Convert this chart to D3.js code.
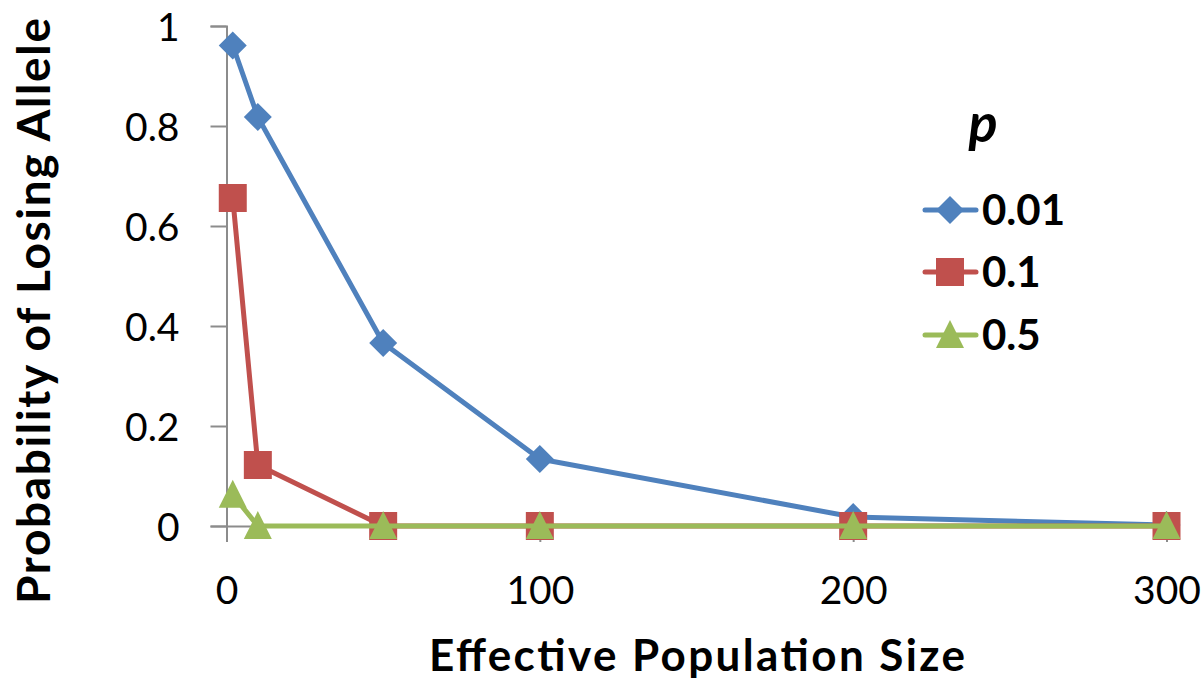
<!DOCTYPE html>
<html>
<head>
<meta charset="utf-8">
<script src="https://cdn.jsdelivr.net/npm/d3@7"></script>
<style>
  html, body { margin: 0; padding: 0; background: #fff; }
  svg { display: block; }
  text { font-family: Lato, "Open Sans", sans-serif; }
</style>
</head>
<body>
<svg id="chart" width="1204" height="683"></svg>
<script>
// Effective population size (N)
const popSizes = [2, 10, 50, 100, 200, 300];
// Probability of losing the allele for each starting frequency p
const lossP001 = [0.961, 0.818, 0.366, 0.134, 0.018, 0.002];
const lossP01  = [0.656, 0.122, 0.0, 0.0, 0.0, 0.0];
const lossP05  = [0.0625, 0.0, 0.0, 0.0, 0.0, 0.0];
const seriesNames = ["0.01", "0.1", "0.5"];
const xTicks = [0, 100, 200, 300];
const yTicks = [0, 0.2, 0.4, 0.6, 0.8, 1];

const series = [
  { name: seriesNames[0], values: lossP001, color: "#4F81BD", shape: "diamond" },
  { name: seriesNames[1], values: lossP01,  color: "#C0504D", shape: "square" },
  { name: seriesNames[2], values: lossP05,  color: "#9BBB59", shape: "triangle" }
];

const svg = d3.select("#chart");
const x = d3.scaleLinear().domain([0, 300]).range([226.5, 1166.5]);
const y = d3.scaleLinear().domain([0, 1]).range([526, 26]);

const axisColor = "#8c8c8c";

// Y axis
const yAxis = svg.append("g")
  .attr("transform", `translate(${x(0)},0)`)
  .call(d3.axisLeft(y).tickValues(yTicks).tickSize(16).tickPadding(30)
    .tickFormat(d => d === 0 ? "0" : d === 1 ? "1" : d3.format(".1f")(d)));
yAxis.select(".domain").attr("stroke", axisColor).attr("stroke-width", 2);
yAxis.selectAll(".tick line").attr("stroke", axisColor).attr("stroke-width", 2);
yAxis.selectAll(".tick text").attr("font-size", 39).attr("fill", "#000")
  .attr("font-family", "Lato, sans-serif").attr("dy", "0.36em").attr("x", -47);

// X axis
const xAxis = svg.append("g")
  .attr("transform", `translate(0,${y(0)})`)
  .call(d3.axisBottom(x).tickValues(xTicks).tickSize(16).tickPadding(20).tickFormat(d3.format("d")));
xAxis.select(".domain").attr("stroke", axisColor).attr("stroke-width", 2);
xAxis.selectAll(".tick line").attr("stroke", axisColor).attr("stroke-width", 2);
xAxis.selectAll(".tick text").attr("font-size", 39).attr("fill", "#000")
  .attr("font-family", "Lato, sans-serif").attr("dy", null).attr("y", 78);

// Axis titles
svg.append("text")
  .attr("x", 697).attr("y", 671)
  .attr("text-anchor", "middle")
  .attr("font-size", 44).attr("font-weight", "bold")
  .attr("textLength", 536).attr("lengthAdjust", "spacing")
  .text("Effective Population Size");

svg.append("text")
  .attr("transform", "translate(50,311) rotate(-90)")
  .attr("text-anchor", "middle")
  .attr("font-size", 46).attr("font-weight", "bold")
  .attr("textLength", 586).attr("lengthAdjust", "spacing")
  .text("Probability of Losing Allele");

// Marker paths
function markerPath(shape) {
  if (shape === "diamond") return "M0,-14L14,0L0,14L-14,0Z";
  if (shape === "square") return "M-14,-14H14V14H-14Z";
  return "M0,-15L14,13H-14Z";
}

const line = d3.line().x((d, i) => x(popSizes[i])).y(d => y(d));

series.forEach(s => {
  const g = svg.append("g");
  g.append("path")
    .datum(s.values)
    .attr("d", line)
    .attr("fill", "none")
    .attr("stroke", s.color)
    .attr("stroke-width", 5)
    .attr("stroke-linejoin", "round")
    .attr("stroke-linecap", "round");
  g.selectAll("path.mk")
    .data(s.values)
    .join("path")
    .attr("class", "mk")
    .attr("transform", (d, i) => `translate(${x(popSizes[i])},${y(d)})`)
    .attr("d", markerPath(s.shape))
    .attr("fill", s.color);
});

// Legend
const legend = svg.append("g");
legend.append("text")
  .attr("x", 983).attr("y", 142)
  .attr("text-anchor", "middle")
  .attr("font-size", 54).attr("font-weight", "bold").attr("font-style", "italic")
  .text("p");

const rowY = [210, 272, 335];
series.forEach((s, i) => {
  const row = legend.append("g").attr("transform", `translate(0,${rowY[i]})`);
  row.append("line")
    .attr("x1", 925).attr("x2", 976).attr("y1", 0).attr("y2", 0)
    .attr("stroke", s.color).attr("stroke-width", 5).attr("stroke-linecap", "round");
  row.append("path")
    .attr("transform", "translate(950,0)")
    .attr("d", markerPath(s.shape))
    .attr("fill", s.color);
  row.append("text")
    .attr("x", 982).attr("y", 0).attr("dy", "0.36em")
    .attr("font-size", 42).attr("font-weight", "bold")
    .text(s.name);
});
</script>
</body>
</html>
